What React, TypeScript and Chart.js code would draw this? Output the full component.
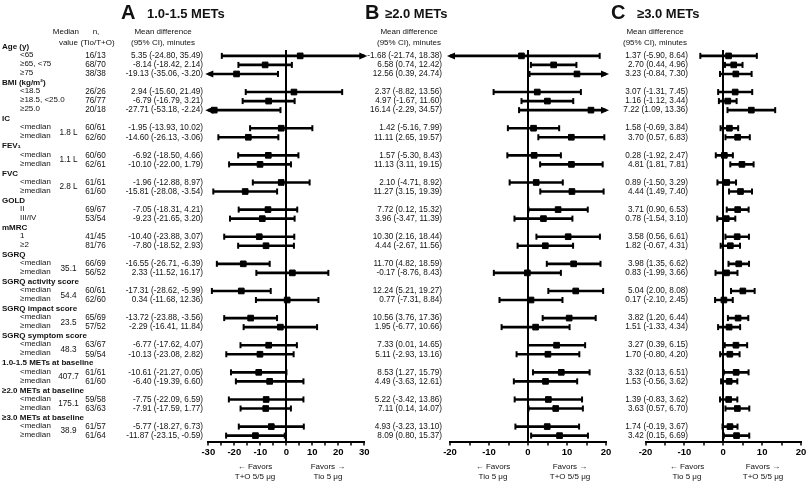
import React, { useEffect, useRef } from 'react';
import { Chart, registerables } from 'chart.js';
Chart.register(...registerables);

const FONT = "'Liberation Sans', Arial, Helvetica, sans-serif";

// ---- Data ----
const groups = [
  'Age (y)', 'BMI (kg/m²)', 'IC', 'FEV₁', 'FVC', 'GOLD', 'mMRC', 'SGRQ',
  'SGRQ activity score', 'SGRQ impact score', 'SGRQ symptom score',
  '1.0-1.5 METs at baseline', '≥2.0 METs at baseline', '≥3.0 METs at baseline',
];
const subgroups: string[][] = [
  ['<65', '≥65, <75', '≥75'],
  ['<18.5', '≥18.5, <25.0', '≥25.0'],
  ['<median', '≥median'],
  ['<median', '≥median'],
  ['<median', '≥median'],
  ['II', 'III/IV'],
  ['1', '≥2'],
  ['<median', '≥median'],
  ['<median', '≥median'],
  ['<median', '≥median'],
  ['<median', '≥median'],
  ['<median', '≥median'],
  ['<median', '≥median'],
  ['<median', '≥median'],
];
const medianValues = ['', '', '1.8 L', '1.1 L', '2.8 L', '', '', '35.1', '54.4', '23.5', '48.3', '407.7', '175.1', '38.9'];
const nTioTO = [
  '16/13', '68/70', '38/38', '26/26', '76/77', '20/18', '60/61', '62/60', '60/60', '62/61',
  '61/61', '61/60', '69/67', '53/54', '41/45', '81/76', '66/69', '56/52', '60/61', '62/60',
  '65/69', '57/52', '63/67', '59/54', '61/61', '61/60', '59/58', '63/63', '61/57', '61/64',
];

const meanA = [5.35, -8.14, -19.13, 2.94, -6.79, -27.71, -1.95, -14.60, -6.92, -10.10, -1.96, -15.81, -7.05, -9.23, -10.40, -7.80, -16.55, 2.33, -17.31, 0.34, -13.72, -2.29, -6.77, -10.13, -10.61, -6.40, -7.75, -7.91, -5.77, -11.87];
const lowA = [-24.80, -18.42, -35.06, -15.60, -16.79, -53.18, -13.93, -26.13, -18.50, -22.00, -12.88, -28.08, -18.31, -21.65, -23.88, -18.52, -26.71, -11.52, -28.62, -11.68, -23.88, -16.41, -17.62, -23.08, -21.27, -19.39, -22.09, -17.59, -18.27, -23.15];
const highA = [35.49, 2.14, -3.20, 21.49, 3.21, -2.24, 10.02, -3.06, 4.66, 1.79, 8.97, -3.54, 4.21, 3.20, 3.07, 2.93, -6.39, 16.17, -5.99, 12.36, -3.56, 11.84, 4.07, 2.82, 0.05, 6.60, 6.59, 1.77, 6.73, -0.59];

const meanB = [-1.68, 6.58, 12.56, 2.37, 4.97, 16.14, 1.42, 11.11, 1.57, 11.13, 2.10, 11.27, 7.72, 3.96, 10.30, 4.44, 11.70, -0.17, 12.24, 0.77, 10.56, 1.95, 7.33, 5.11, 8.53, 4.49, 5.22, 7.11, 4.93, 8.09];
const lowB = [-21.74, 0.74, 0.39, -8.82, -1.67, -2.29, -5.16, 2.65, -5.30, 3.11, -4.71, 3.15, 0.12, -3.47, 2.16, -2.67, 4.82, -8.76, 5.21, -7.31, 3.76, -6.77, 0.01, -2.93, 1.27, -3.63, -3.42, 0.14, -3.23, 0.80];
const highB = [18.38, 12.42, 24.74, 13.56, 11.60, 34.57, 7.99, 19.57, 8.43, 19.15, 8.92, 19.39, 15.32, 11.39, 18.44, 11.56, 18.59, 8.43, 19.27, 8.84, 17.36, 10.66, 14.65, 13.16, 15.79, 12.61, 13.86, 14.07, 13.10, 15.37];

const meanC = [1.37, 2.70, 3.23, 3.07, 1.16, 7.22, 1.58, 3.70, 0.28, 4.81, 0.89, 4.44, 3.71, 0.78, 3.58, 1.82, 3.98, 0.83, 5.04, 0.17, 3.82, 1.51, 3.27, 1.70, 3.32, 1.53, 1.39, 3.63, 1.74, 3.42];
const lowC = [-5.90, 0.44, -0.84, -1.31, -1.12, 1.09, -0.69, 0.57, -1.92, 1.81, -1.50, 1.49, 0.90, -1.54, 0.56, -0.67, 1.35, -1.99, 2.00, -2.10, 1.20, -1.33, 0.39, -0.80, 0.13, -0.56, -0.83, 0.57, -0.19, 0.15];
const highC = [8.64, 4.96, 7.30, 7.45, 3.44, 13.36, 3.84, 6.83, 2.47, 7.81, 3.29, 7.40, 6.53, 3.10, 6.61, 4.31, 6.62, 3.66, 8.08, 2.45, 6.44, 4.34, 6.15, 4.20, 6.51, 3.62, 3.62, 6.70, 3.67, 6.69];

// ---- slot layout (header rows + subgroup rows) ----
const headerSlots: number[] = [];
const rowSlots: number[] = [];
const rowLabels: string[] = [];
const groupRows: number[][] = [];
(() => {
  let s = 0;
  let r = 0;
  groups.forEach((g, gi) => {
    headerSlots.push(s++);
    const rows: number[] = [];
    subgroups[gi].forEach((l) => {
      rowSlots.push(s++);
      rowLabels.push(l);
      rows.push(r++);
    });
    groupRows.push(rows);
  });
})();
const TOTAL_SLOTS = headerSlots.length + rowSlots.length; // 44

const fmt = (v: number) => v.toFixed(2);

const W = 810;
const H = 484;
const AXIS_Y = 441.5;
const TOP = 50;

type Panel = {
  letter: string; title: string; mean: number[]; low: number[]; high: number[];
  min: number; max: number; left: number; right: number;
  valueRight: number; headerX: number; letterX: number; titleX: number;
  favLeft: [string, string]; favLeftX: number; favRight: [string, string]; favRightX: number;
  rowText: boolean;
};

const panels: Panel[] = [
  {
    letter: 'A', title: '1.0-1.5 METs', mean: meanA, low: lowA, high: highA,
    min: -30, max: 30, left: 208.3, right: 364.3, valueRight: 203, headerX: 163,
    letterX: 121, titleX: 147,
    favLeft: ['← Favors', 'T+O 5/5 μg'], favLeftX: 255, favRight: ['Favors →', 'Tio 5 μg'], favRightX: 328,
    rowText: true,
  },
  {
    letter: 'B', title: '≥2.0 METs', mean: meanB, low: lowB, high: highB,
    min: -20, max: 20, left: 450, right: 606, valueRight: 442, headerX: 409,
    letterX: 365, titleX: 385,
    favLeft: ['← Favors', 'Tio 5 μg'], favLeftX: 493, favRight: ['Favors →', 'T+O 5/5 μg'], favRightX: 570,
    rowText: false,
  },
  {
    letter: 'C', title: '≥3.0 METs', mean: meanC, low: lowC, high: highC,
    min: -20, max: 20, left: 645.5, right: 801, valueRight: 688, headerX: 655,
    letterX: 611, titleX: 637,
    favLeft: ['← Favors', 'Tio 5 μg'], favLeftX: 687, favRight: ['Favors →', 'T+O 5/5 μg'], favRightX: 763,
    rowText: false,
  },
];

function makeTextPlugin(p: Panel) {
  return {
    id: 'text' + p.letter,
    afterDraw(chart: any) {
      const ctx = chart.ctx as CanvasRenderingContext2D;
      const y = chart.scales.y;
      const area = chart.chartArea;
      ctx.save();
      // arrows for CIs beyond the axis range
      ctx.fillStyle = '#000';
      ctx.strokeStyle = '#000';
      ctx.lineWidth = 2;
      const tipOut = 3;
      const headLen = 8;
      const headHalf = 3.5;
      p.low.forEach((lo, i) => {
        const py = y.getPixelForValue(rowSlots[i]);
        if (lo < p.min) {
          const tip = area.left - tipOut;
          ctx.beginPath();
          ctx.moveTo(area.left, py);
          ctx.lineTo(tip + headLen - 1, py);
          ctx.stroke();
          ctx.beginPath();
          ctx.moveTo(tip, py);
          ctx.lineTo(tip + headLen, py - headHalf);
          ctx.lineTo(tip + headLen, py + headHalf);
          ctx.closePath();
          ctx.fill();
        }
        if (p.high[i] > p.max) {
          const tip = area.right + tipOut;
          ctx.beginPath();
          ctx.moveTo(area.right, py);
          ctx.lineTo(tip - headLen + 1, py);
          ctx.stroke();
          ctx.beginPath();
          ctx.moveTo(tip, py);
          ctx.lineTo(tip - headLen, py - headHalf);
          ctx.lineTo(tip - headLen, py + headHalf);
          ctx.closePath();
          ctx.fill();
        }
      });

      ctx.fillStyle = '#111';
      ctx.textBaseline = 'middle';
      // title
      ctx.textAlign = 'left';
      ctx.font = `bold 20px ${FONT}`;
      ctx.fillText(p.letter, p.letterX, 13);
      ctx.font = `bold 13px ${FONT}`;
      ctx.fillText(p.title, p.titleX, 14);
      // column headers
      ctx.font = `8px ${FONT}`;
      ctx.textAlign = 'center';
      ctx.fillText('Mean difference', p.headerX, 32);
      ctx.fillText('(95% CI), minutes', p.headerX, 43);
      if (p.rowText) {
        ctx.textAlign = 'right';
        ctx.fillText('Median', 79, 32);
        ctx.fillText('value', 78, 43);
        ctx.textAlign = 'center';
        ctx.fillText('n,', 96, 32);
        ctx.fillText('(Tio/T+O)', 97.5, 43);
        ctx.textAlign = 'left';
        ctx.font = `bold 8px ${FONT}`;
        groups.forEach((g, gi) => ctx.fillText(g, 2, y.getPixelForValue(headerSlots[gi])));
        ctx.font = `8px ${FONT}`;
        rowLabels.forEach((l, i) => ctx.fillText(l, 20, y.getPixelForValue(rowSlots[i]) - 1));
        ctx.textAlign = 'center';
        ctx.font = `8.2px ${FONT}`;
        medianValues.forEach((m, gi) => {
          if (!m) return;
          const rows = groupRows[gi];
          const y1 = y.getPixelForValue(rowSlots[rows[0]]);
          const y2 = y.getPixelForValue(rowSlots[rows[rows.length - 1]]);
          ctx.fillText(m, 68.5, (y1 + y2) / 2);
        });
        nTioTO.forEach((n, i) => ctx.fillText(n, 95.5, y.getPixelForValue(rowSlots[i])));
      }
      // mean difference values
      ctx.textAlign = 'right';
      ctx.font = `8.2px ${FONT}`;
      p.mean.forEach((m, i) => {
        ctx.fillText(`${fmt(m)} (${fmt(p.low[i])}, ${fmt(p.high[i])})`, p.valueRight, y.getPixelForValue(rowSlots[i]));
      });
      // favors labels
      ctx.textAlign = 'center';
      ctx.font = `8px ${FONT}`;
      ctx.fillText(p.favLeft[0], p.favLeftX, 466.5);
      ctx.fillText(p.favLeft[1], p.favLeftX, 477);
      ctx.fillText(p.favRight[0], p.favRightX, 466.5);
      ctx.fillText(p.favRight[1], p.favRightX, 477);
      ctx.restore();
    },
  };
}

function buildConfig(p: Panel): any {
  const barData = p.low.map((l, i) => ({ y: rowSlots[i], x: [l, p.high[i]] }));
  const capData: { x: number; y: number }[] = [];
  p.low.forEach((l, i) => {
    if (l >= p.min) capData.push({ x: l, y: rowSlots[i] });
    if (p.high[i] <= p.max) capData.push({ x: p.high[i], y: rowSlots[i] });
  });
  const meanData = p.mean.map((m, i) => ({ x: m, y: rowSlots[i] }));
  return {
    type: 'scatter',
    data: {
      datasets: [
        {
          type: 'bar', indexAxis: 'y', data: barData, backgroundColor: '#000', borderWidth: 0,
          barThickness: 2, clip: 0, order: 3,
        },
        {
          type: 'scatter', data: capData, pointStyle: 'line', pointRotation: 90, pointRadius: 3,
          pointHoverRadius: 3, pointBorderWidth: 2, pointBorderColor: '#000', pointBackgroundColor: '#000',
          clip: false, order: 2,
        },
        {
          type: 'scatter', data: meanData, pointStyle: 'rect', pointRadius: 4, pointHoverRadius: 4,
          pointBorderWidth: 1, pointBorderColor: '#000', pointBackgroundColor: '#000', clip: false, order: 1,
        },
      ],
    },
    options: {
      responsive: false,
      animation: false,
      events: [],
      layout: { padding: { left: p.left, right: W - p.right, top: TOP, bottom: 0 } },
      plugins: { legend: { display: false }, tooltip: { enabled: false } },
      scales: {
        x: {
          type: 'linear', min: p.min, max: p.max, offset: false,
          afterFit: (s: any) => { s.height = H - AXIS_Y; s.paddingLeft = 0; s.paddingRight = 0; },
          ticks: {
            stepSize: 5, autoSkip: false, maxRotation: 0, minRotation: 0, padding: 1, color: '#000',
            font: { family: FONT, size: 9.5, weight: 'bold' },
            callback: (v: number) => (Math.round(v) % 10 === 0 ? String(v) : ''),
          },
          grid: {
            display: true, drawOnChartArea: true, offset: false,
            color: (c: any) => (c.tick && c.tick.value === 0 ? '#000' : 'rgba(0,0,0,0)'),
            lineWidth: 2, drawTicks: true, tickLength: 4, tickColor: '#000', tickWidth: 1.5,
          },
          border: { display: true, color: '#000', width: 2 },
        },
        y: {
          type: 'linear', min: 0.35, max: TOTAL_SLOTS - 0.35, reverse: true, display: false,
          offset: false, grid: { offset: false },
        },
      },
    },
    plugins: [makeTextPlugin(p)],
  };
}

export default function App() {
  const r0 = useRef<HTMLCanvasElement>(null);
  const r1 = useRef<HTMLCanvasElement>(null);
  const r2 = useRef<HTMLCanvasElement>(null);
  const refs = [r0, r1, r2];
  useEffect(() => {
    const charts = panels.map((p, k) => new Chart(refs[k].current as HTMLCanvasElement, buildConfig(p)));
    return () => charts.forEach((c) => c.destroy());
  }, []);
  return (
    <div style={{ position: 'fixed', left: 0, top: 0, width: W, height: H, background: '#fff' }}>
      {panels.map((p, k) => (
        <canvas key={p.letter} ref={refs[k]} width={W} height={H} style={{ position: 'absolute', left: 0, top: 0 }} />
      ))}
    </div>
  );
}
